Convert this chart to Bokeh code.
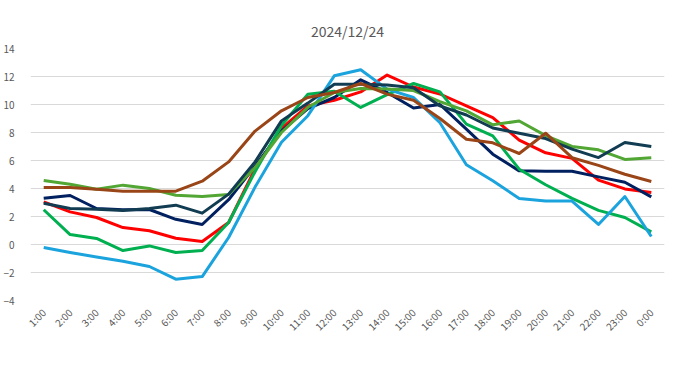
import math
from bokeh.plotting import figure
from bokeh.models import Legend, LegendItem, FixedTicker, Range1d
from bokeh.embed import file_html
from bokeh.resources import INLINE

hours = ["1:00", "2:00", "3:00", "4:00", "5:00", "6:00", "7:00", "8:00",
         "9:00", "10:00", "11:00", "12:00", "13:00", "14:00", "15:00", "16:00",
         "17:00", "18:00", "19:00", "20:00", "21:00", "22:00", "23:00", "0:00"]

y_ticks = [-4, -2, 0, 2, 4, 6, 8, 10, 12, 14]

jitaku = [3.05, 2.33, 1.93, 1.21, 0.98, 0.45, 0.21, 1.57, 5.4, 8.3, 9.9, 10.3,
          10.9, 12.1, 11.25, 10.75, 9.9, 9.07, 7.45, 6.55, 6.15, 4.6, 3.97, 3.71]
tsujido = [3.3, 3.5, 2.57, 2.48, 2.5, 1.8, 1.43, 3.2, 5.6, 8.1, 9.7, 10.5,
           11.76, 10.86, 9.75, 10.0, 8.24, 6.45, 5.26, 5.24, 5.23, 4.83, 4.45, 3.4]
odawara = [2.48, 0.71, 0.43, -0.43, -0.1, -0.57, -0.43, 1.57, 5.2, 8.5, 10.74, 10.95,
           9.79, 10.7, 11.5, 10.9, 8.6, 7.76, 5.38, 4.27, 3.29, 2.44, 1.93, 0.9]
ebina = [-0.21, -0.57, -0.9, -1.2, -1.57, -2.48, -2.29, 0.5, 4.1, 7.3, 9.2, 12.05,
         12.48, 11.1, 10.5, 8.7, 5.7, 4.55, 3.29, 3.1, 3.1, 1.43, 3.43, 0.57]
miura = [float("nan")] * 24
yokohama = [4.57, 4.3, 3.95, 4.24, 4.0, 3.52, 3.43, 3.57, 5.5, 8.0, 9.8, 10.86,
            11.15, 11.1, 11.0, 10.2, 9.55, 8.55, 8.82, 7.78, 7.0, 6.76, 6.08, 6.2]
tokyo = [2.95, 2.57, 2.52, 2.43, 2.57, 2.81, 2.24, 3.6, 5.9, 8.83, 10.1, 11.45,
         11.45, 11.4, 11.2, 9.9, 9.25, 8.32, 7.95, 7.57, 6.81, 6.21, 7.29, 7.0]
series8 = [4.07, 4.07, 3.95, 3.81, 3.81, 3.81, 4.52, 5.9, 8.1, 9.55, 10.5, 10.86,
           11.5, 10.74, 10.3, 9.0, 7.52, 7.26, 6.5, 7.95, 6.2, 5.65, 5.02, 4.5]

names = ["自宅", "辻堂", "小田原", "海老名", "三浦", "横浜", "東京", "系列8"]
values = [jitaku, tsujido, odawara, ebina, miura, yokohama, tokyo, series8]
colors = ["#ff0000", "#002060", "#00b050", "#1ba3dd", "#a0349c", "#52a634",
          "#113c52", "#9a4517"]

FONT = "Noto Sans CJK JP"
TXT = "#595959"

p = figure(x_range=hours, y_range=Range1d(-4, 14),
           frame_width=634, frame_height=252,
           output_backend="svg", toolbar_location=None, title="2024/12/24",
           min_border_left=24, min_border_right=7, min_border_top=48,
           min_border_bottom=0)

p.title.text_font = FONT
p.title.text_font_size = "14px"
p.title.text_font_style = "normal"
p.title.text_color = TXT
p.title.align = "center"
p.title.offset = -7
p.title.standoff = 16

p.outline_line_color = None
p.xgrid.grid_line_color = None
p.ygrid.grid_line_color = "#d9d9d9"
p.ygrid.grid_line_width = 1
p.yaxis.ticker = FixedTicker(ticks=y_ticks)

for ax in (p.xaxis, p.yaxis):
    ax.axis_line_color = None
    ax.major_tick_line_color = None
    ax.minor_tick_line_color = None
    ax.major_label_text_font = FONT
    ax.major_label_text_font_size = "10px"
    ax.major_label_text_color = TXT

p.yaxis.major_label_standoff = 10
p.xaxis.major_label_orientation = math.pi / 4
p.xaxis.major_label_standoff = 4

items = []
for name, vals, col in zip(names, values, colors):
    r = p.line(hours, vals, line_color=col, line_width=3, line_join="round")
    items.append(LegendItem(label=name, renderers=[r]))

legend = Legend(items=items, orientation="horizontal", location="center",
                glyph_width=28, glyph_height=16, label_standoff=3, spacing=14,
                padding=0, margin=0, border_line_color=None,
                background_fill_alpha=0, label_text_font=FONT,
                label_text_font_size="11px", label_text_color=TXT)
p.add_layout(legend, "below")

open("out.html", "w").write(file_html(p, INLINE))
